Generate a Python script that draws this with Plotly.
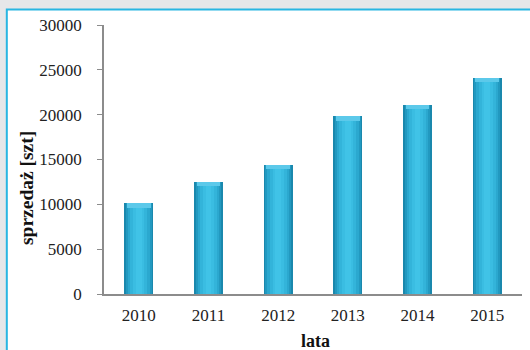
import plotly.graph_objects as go

# Sales per year
years = ["2010", "2011", "2012", "2013", "2014", "2015"]
sales = [10100, 12500, 14400, 19800, 21100, 24100]

y_ticks = [0, 5000, 10000, 15000, 20000, 25000, 30000]
y_tick_text = [str(v) for v in y_ticks]

# Cylinder-like shading: stacked overlay bars, outer (dark) to inner (light)
shade_widths = [0.42, 0.37, 0.31, 0.24, 0.16, 0.08]
shade_colors = ["#1a88ad", "#2299c0", "#2ba8cf", "#33b4da", "#3abde2", "#40c3e7"]

fig = go.Figure()
for w, c in zip(shade_widths, shade_colors):
    fig.add_trace(go.Bar(
        x=years, y=sales, width=w,
        marker=dict(color=c, line=dict(width=0)),
        hoverinfo="skip", showlegend=False,
    ))

# soft bevel on top of each bar
cap = 500
fig.add_trace(go.Bar(
    x=years, y=[cap] * len(sales), base=[v - cap for v in sales], width=0.34,
    marker=dict(color="#5cc9ea", line=dict(width=0)),
    hoverinfo="skip", showlegend=False,
))

font = "Liberation Serif, Times New Roman, serif"

fig.update_layout(
    width=530, height=350,
    margin=dict(l=104, r=8, t=25, b=56),
    paper_bgcolor="#e6e7e9",
    plot_bgcolor="rgba(0,0,0,0)",
    barmode="overlay",
    bargap=0,
    font=dict(family=font, size=17, color="#222222"),
    shapes=[dict(
        type="rect", xref="paper", yref="paper", layer="below",
        x0=-0.2325, x1=1.2, y0=-0.4, y1=1.058,
        fillcolor="white", line=dict(color="#29b6e2", width=2),
    )],
    annotations=[
        dict(text="<b>sprzedaż [szt]</b>", xref="paper", yref="paper",
             x=-0.186, y=0.395, textangle=-90, showarrow=False,
             xanchor="center", yanchor="middle",
             font=dict(family=font, size=19.5, color="#111111")),
        dict(text="<b>lata</b>", xref="paper", yref="paper",
             x=0.505, y=-0.175, showarrow=False,
             xanchor="center", yanchor="middle",
             font=dict(family=font, size=18, color="#111111")),
    ],
)

fig.update_xaxes(
    type="category", categoryorder="array", categoryarray=years,
    showline=True, linecolor="#8c8c8c", linewidth=1.5,
    ticks="", showgrid=False, zeroline=False,
    ticklabelstandoff=5,
)
fig.update_yaxes(
    range=[0, 30000], tickvals=y_ticks, ticktext=y_tick_text,
    showline=True, linecolor="#8c8c8c", linewidth=1.5,
    ticks="outside", ticklen=5, tickcolor="#8c8c8c",
    showgrid=False, zeroline=False,
    ticklabelstandoff=12,
)

fig.write_html("out.html")
